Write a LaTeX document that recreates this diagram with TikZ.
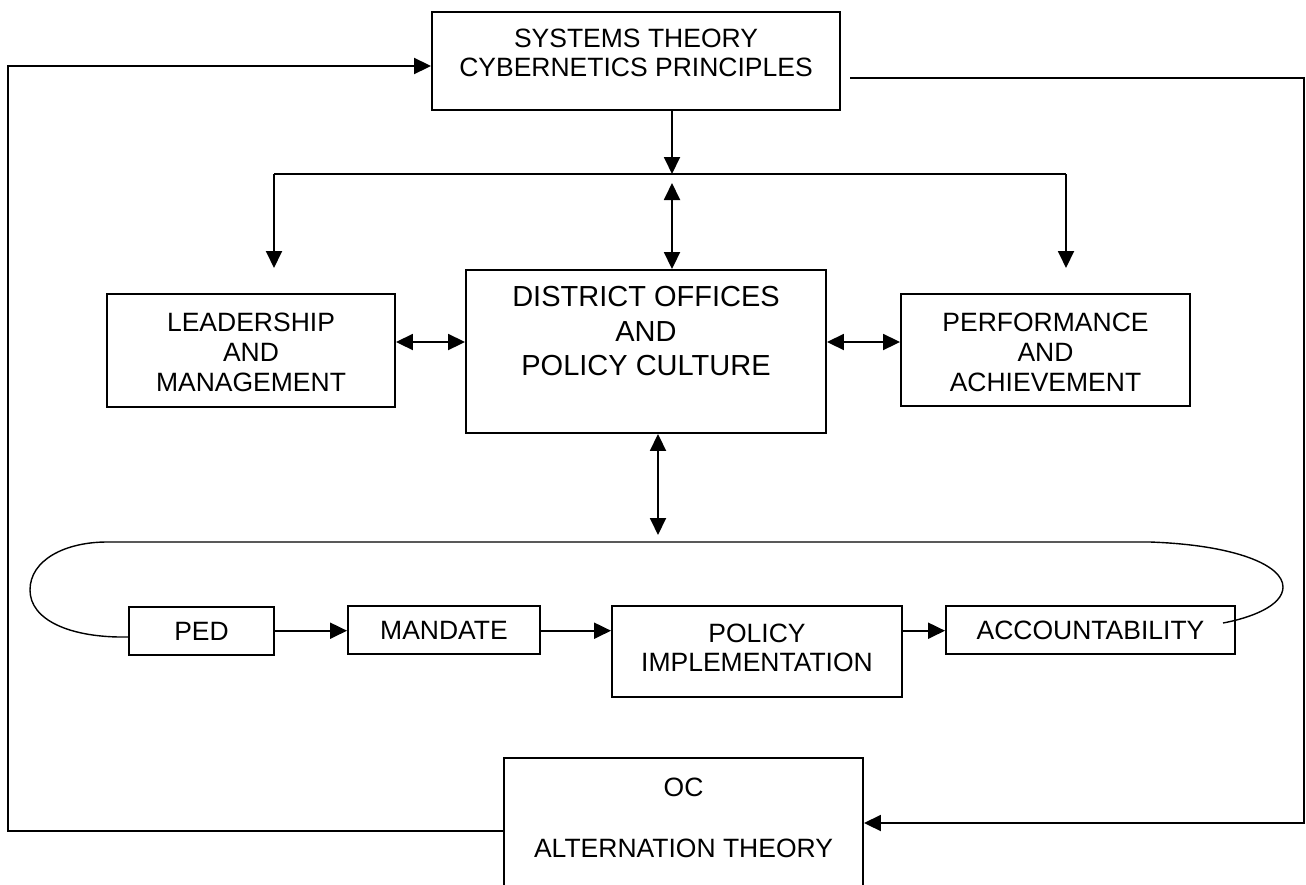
\documentclass[tikz,border=0pt]{standalone}
\usepackage{fontspec}
\setmainfont{Liberation Sans}
\usetikzlibrary{arrows.meta,calc}
\begin{document}
\begin{tikzpicture}[x=1pt,y=-1pt,
  box/.style={draw, line width=1.9pt, rectangle, inner sep=0pt},
  txt/.style={align=center, inner sep=0pt, font=\fontsize{26.5}{30}\selectfont},
  bigtxt/.style={align=center, inner sep=0pt, font=\fontsize{29}{34.5}\selectfont},
  ln/.style={line width=1.9pt},
  thinln/.style={line width=1.4pt},
  arr/.style={ln, -{Triangle[length=17pt,width=16pt]}},
  darr/.style={ln, {Triangle[length=17pt,width=16pt]}-{Triangle[length=17pt,width=16pt]}}]
\clip (0,0) rectangle (1306,884);
\fill[white] (0,0) rectangle (1306,884);
% boxes
\node[box, minimum width=408pt, minimum height=98pt] (top) at (636,61) {};
\node[txt] (topt) at (636,52.5) {SYSTEMS THEORY\\[-1pt]CYBERNETICS PRINCIPLES};
\node[box, minimum width=288pt, minimum height=113pt] (lead) at (251,350.5) {};
\node[txt] (leadt) at (251,352) {LEADERSHIP\\AND\\MANAGEMENT};
\node[box, minimum width=360pt, minimum height=163pt] (dist) at (646,351.5) {};
\node[bigtxt] (distt) at (646,331.5) {DISTRICT OFFICES\\AND\\POLICY CULTURE};
\node[box, minimum width=289pt, minimum height=112pt] (perf) at (1045.5,350) {};
\node[txt] (perft) at (1045.5,352) {PERFORMANCE\\AND\\ACHIEVEMENT};
\node[box, minimum width=145pt, minimum height=48pt, txt] (ped) at (201.5,631) {PED};
\node[box, minimum width=192pt, minimum height=48pt, txt] (mand) at (444,630) {MANDATE};
\node[box, minimum width=290pt, minimum height=91pt] (pol) at (757,651.5) {};
\node[txt] (polt) at (757,647.5) {POLICY\\[-1pt]IMPLEMENTATION};
\node[box, minimum width=289pt, minimum height=48pt, txt] (acc) at (1090.5,630) {ACCOUNTABILITY};
\node[box, minimum width=359pt, minimum height=146pt] (oc) at (683.5,831) {};
\node[txt] (oct) at (683.5,787) {OC};
\node[txt] (alt) at (683.5,848) {ALTERNATION THEORY};
% coordinates
\coordinate (j) at (672,174);
\coordinate (ju) at (672,183);
\coordinate (jl) at (274,174);
\coordinate (jr) at (1066,174);
\coordinate (tl) at (274,268);
\coordinate (tr) at (1066,268);
\coordinate (rowy) at (0,342);
\coordinate (bx) at (658,535);
\coordinate (ay) at (0,630.7);
\coordinate (ltop) at (8,66);
\coordinate (rst) at (850,78);
\coordinate (rtop) at (1304,78);
\coordinate (rbot) at (1304,823);
% top distribution
\draw[arr] (top.south -| j) -- (j);
\draw[ln] (jl) -- (jr);
\draw[arr] (jl) -- (tl);
\draw[arr] (jr) -- (tr);
\draw[darr] (ju) -- (dist.north -| ju);
% side arrows
\draw[darr] (lead.east |- rowy) -- (dist.west |- rowy);
\draw[darr] (dist.east |- rowy) -- (perf.west |- rowy);
\draw[darr] (dist.south -| bx) -- (bx);
% bottom row
\draw[arr] (ped.east |- ay) -- (mand.west |- ay);
\draw[arr] (mand.east |- ay) -- (pol.west |- ay);
\draw[arr] (pol.east |- ay) -- (acc.west |- ay);
% loop
\draw[thinln] (128,637) .. controls (70,638) and (30,620) .. (30,590)
  .. controls (30,560) and (65,542) .. (107,542) -- (1150,542)
  .. controls (1235,545) and (1283,565) .. (1283,587)
  .. controls (1283,606) and (1250,618) .. (1223,623);
% outer feedback lines
\draw[arr] (oc.west) -| (ltop) -- (top.west |- ltop);
\draw[arr] (rst) -- (rtop) -- (rbot) -- (oc.east |- rbot);
\end{tikzpicture}
\end{document}
